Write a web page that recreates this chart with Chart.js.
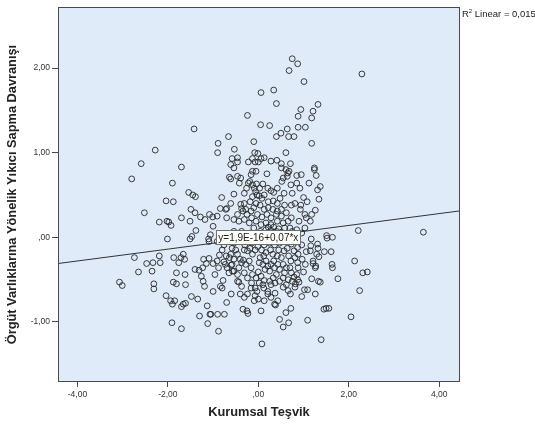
<!DOCTYPE html>
<html>
<head>
<meta charset="utf-8">
<script src="https://cdn.jsdelivr.net/npm/chart.js@4.4.1/dist/chart.umd.min.js"></script>
<style>
  html, body { margin: 0; padding: 0; background: #ffffff; }
  #wrap { width: 535px; height: 427px; position: relative; }
</style>
</head>
<body>
<div id="wrap"><canvas id="c" width="535" height="427"></canvas></div>
<script>
// Kurumsal Teşvik (x) vs Örgüt Varlıklarına Yönelik Yıkıcı Sapma Davranışı (y)
const pointsX = [
  0.75,0.87,0.68,2.29,1.01,0.34,0.06,0.40,1.32,0.94,1.21,-0.24,0.88,1.18,0.05,0.25,1.04,0.88,-1.42,0.64,0.50,0.40,0.67,0.79,-0.66,-0.10,1.18,-0.89,-2.28,-0.53,-0.90,-0.08,-0.01,0.61,
  -2.59,-2.80,-1.70,-1.90,-1.88,-2.04,-2.52,-2.19,-2.02,-1.98,-1.93,-2.01,-1.54,-1.45,-1.39,-1.49,-1.40,-1.70,-1.51,-1.28,-1.18,-1.38,-1.47,-1.51,-1.08,-1.01,-1.00,-1.10,-1.09,-0.84,-0.70,-0.70,-0.81,
  -3.07,-3.01,-2.74,-2.65,-2.47,-2.35,-2.33,-2.31,-2.31,-2.19,-2.17,-2.04,-1.94,-1.90,-1.85,-1.91,-1.88,-1.81,-1.87,-1.81,-1.76,-1.71,-1.66,-1.63,-1.62,-1.61,-1.70,-1.66,-1.61,-1.70,-1.48,-1.34,-1.40,-1.31,-1.23,-1.26,-1.22,-1.19,-1.30,-1.13,-1.12,-1.07,-1.05,-1.21,-1.15,-1.09,-1.00,-0.96,-1.00,-0.90,-0.88,-0.75,-0.84,-0.80,-0.78,-0.88,-0.91,-0.76,-0.71,-0.69,-0.64,-0.60,-0.57,-0.70,-0.60,-0.46,-0.43,-0.37,-0.40,-0.34,-0.25,-0.23,-0.31,-0.24,-0.16,-0.09,-0.07,-0.03,0.06,0.08,0.12,0.21,0.28,0.36,0.38,0.43,0.37,0.47,0.55,0.61,0.67,0.72,0.66,0.71,0.81,0.96,1.02,1.09,1.09,1.18,1.26,1.33,1.37,1.39,1.45,1.50,1.56,1.63,1.64,1.76,2.05,2.13,2.24,2.31,2.41,2.21,3.65,1.51,1.52,1.64,1.61,1.46,1.31,1.32,1.29,1.34,1.21,1.27,1.15,1.16,1.06,1.17,1.21,1.26,
  1.24,1.24,1.28,1.37,1.31,1.34,1.26,1.12,1.08,1.00,0.95,0.85,0.85,0.92,0.75,0.72,0.81,0.73,0.94,0.93,1.03,1.06,1.18,1.15,0.90,0.73,0.61,0.65,0.68,0.64,0.71,0.51,0.51,0.41,0.28,0.13,0.19,0.52,0.55,0.42,0.34,0.28,0.21,0.10,0.03,-0.04,-0.06,-0.03,0.02,0.08,0.13,0.22,0.33,0.42,0.48,0.57,0.58,0.51,0.42,0.32,0.22,0.13,0.04,-0.05,-0.10,-0.02,0.08,0.19,0.28,0.40,0.51,0.62,0.66,0.55,0.42,0.28,0.17,0.06,-0.05,-0.15,-0.25,-0.34,-0.46,-0.54,-0.43,-0.31,-0.20,-0.10,
  -0.16,-0.22,-0.19,-0.13,-0.09,-0.26,-0.31,-0.42,-0.39,-0.46,-0.54,-0.61,-0.58,-0.46,-0.64,-0.61,-0.54,-0.61,-0.72,-0.39,-0.31,-0.18,-0.13,-0.28,-0.16,-0.37,-0.22,-0.07,-0.13,-0.13,-0.05,0.06,0.00,-0.46,-0.54,-0.63,-0.46,-0.37,
  -0.58,-0.61,-0.54,-0.46,-0.40,-0.37,-0.33,-0.28,-0.43,-0.54,-0.65,-0.46,-0.31,-0.24,-0.15,-0.13,-0.05,0.00,0.06,0.13,0.10,0.02,-0.07,-0.16,-0.20,-0.13,-0.07,-0.01,-0.18,-0.24,-0.31,-0.30,-0.15,-0.09,0.06,0.13,0.07,0.17,0.12,0.04,0.02,0.10,0.17,0.21,0.15,0.25,0.28,0.34,0.36,0.43,0.47,0.40,0.33,0.25,0.37,0.47,0.55,0.58,0.62,0.55,0.51,0.42,0.32,0.27,0.25,0.36,0.45,0.57,0.64,0.67,0.72,0.70,0.73,0.79,0.85,0.87,0.90,0.82,0.75,0.66,0.62,0.55,0.88,0.87,0.81,0.88,0.79,0.87,0.96,0.97,1.04,1.00,0.82,0.73,0.66,0.57,0.47,0.40,0.28,0.21,0.13,0.04,0.17,0.28,0.40,0.51,0.64,0.75,0.85,0.96,1.03,0.70,0.58,0.45,0.34,0.22,-0.05,-0.18,-0.28,-0.45,-0.54,-0.50,-0.76,-0.80,-0.86,-0.73,-0.58,
  0.21,0.28,0.00,0.13,-0.91,-0.84,-0.91,-1.06
];
const pointsY = [
  2.11,2.05,1.97,1.93,1.84,1.74,1.71,1.58,1.57,1.51,1.49,1.44,1.43,1.41,1.33,1.32,1.30,1.30,1.28,1.28,1.23,1.19,1.19,1.19,1.19,1.13,1.11,1.11,1.03,1.04,1.00,1.00,0.99,1.00,
  0.87,0.69,0.83,0.64,0.42,0.43,0.29,0.18,0.19,0.18,0.14,-0.02,0.53,0.50,0.48,0.33,0.29,0.23,0.19,0.24,0.21,0.08,0.01,-0.02,0.27,0.24,0.13,-0.02,-0.05,0.34,0.34,0.23,0.47,
  -0.53,-0.57,-0.24,-0.41,-0.31,-0.40,-0.30,-0.55,-0.61,-0.22,-0.30,-0.69,-0.75,-0.79,-0.75,-1.01,-0.53,-0.55,-0.24,-0.42,-0.30,-0.24,-0.20,-0.26,-0.44,-0.56,-0.82,-0.79,-0.78,-1.08,-0.70,-0.73,-0.38,-0.39,-0.36,-0.46,-0.52,-0.58,-0.93,-0.81,-1.02,-0.91,-0.91,-0.26,-0.31,-0.25,-0.31,-0.44,-0.64,-0.91,-1.11,-0.91,-0.58,-0.60,-0.51,-0.36,-0.28,-0.29,-0.22,-0.36,-0.24,-0.33,-0.40,-0.77,-0.67,-0.52,-0.53,-0.58,-0.67,-0.85,-0.87,-0.90,-0.71,-0.67,-0.60,-0.75,-0.69,-0.64,-0.87,-1.26,-0.60,-0.64,-0.56,-0.79,-0.80,-0.75,-0.66,-0.97,-1.06,-0.89,-1.01,-0.84,-0.63,-0.67,-0.59,-0.70,-0.62,-0.98,-0.62,-0.49,-0.67,-0.52,-0.53,-1.21,-0.85,-0.84,-0.84,-0.32,-0.36,-0.49,-0.94,-0.28,-0.63,-0.42,-0.41,0.08,0.06,0.02,-0.01,0.00,-0.17,-0.17,-0.08,-0.13,-0.20,-0.23,-0.28,-0.34,-0.16,-0.10,-0.17,-0.02,-0.31,-0.36,
  0.82,0.80,0.73,0.60,0.56,0.45,0.32,0.64,0.42,0.47,0.74,0.73,0.64,0.58,0.52,0.62,0.40,0.38,0.38,0.33,0.27,0.23,0.27,0.19,0.19,0.23,0.80,0.76,0.78,0.72,0.87,0.87,0.82,0.91,0.90,0.94,0.75,0.66,0.70,0.58,0.53,0.55,0.58,0.63,0.58,0.63,0.54,0.50,0.49,0.46,0.50,0.42,0.43,0.40,0.46,0.52,0.38,0.33,0.31,0.33,0.35,0.33,0.38,0.40,0.35,0.27,0.24,0.27,0.23,0.27,0.25,0.29,0.19,0.17,0.19,0.15,0.17,0.15,0.19,0.23,0.27,0.31,0.27,0.21,0.19,0.21,0.17,0.11,
  0.74,0.64,0.66,0.62,0.58,0.58,0.52,0.64,0.70,0.72,0.82,0.86,0.93,0.94,0.71,0.69,0.51,0.40,0.33,0.39,0.40,0.42,0.48,0.33,0.31,0.34,0.89,0.89,0.93,0.78,0.78,0.93,0.89,0.89,0.07,0.03,0.03,0.07,
  -0.13,-0.20,-0.26,-0.20,-0.26,-0.30,-0.27,-0.32,-0.36,-0.40,-0.42,-0.44,-0.42,-0.48,-0.54,-0.44,-0.48,-0.41,-0.46,-0.51,-0.56,-0.54,-0.60,-0.36,-0.28,-0.20,-0.15,-0.11,-0.13,-0.16,-0.15,-0.09,-0.07,-0.03,-0.03,-0.09,-0.15,-0.18,-0.22,-0.24,-0.30,-0.32,-0.28,-0.34,-0.38,-0.40,-0.32,-0.28,-0.36,-0.32,-0.38,-0.44,-0.48,-0.52,-0.54,-0.52,-0.48,-0.42,-0.36,-0.32,-0.24,-0.22,-0.20,-0.15,-0.07,-0.09,-0.15,-0.16,-0.13,-0.22,-0.28,-0.36,-0.42,-0.47,-0.44,-0.50,-0.53,-0.55,-0.52,-0.50,-0.56,-0.59,-0.36,-0.30,-0.24,-0.20,-0.16,-0.12,-0.09,-0.26,-0.32,-0.41,-0.05,-0.08,-0.05,-0.02,-0.07,-0.02,0.01,-0.02,0.03,0.07,0.09,0.08,0.07,0.06,0.03,0.07,0.09,0.05,0.11,0.11,0.11,0.10,0.12,0.12,0.03,0.05,0.03,-0.05,-0.07,-0.15,-0.09,-0.15,-0.21,-0.32,-0.32,
  -0.67,-0.71,-0.73,-0.75,0.25,0.03,-0.05,0.03
];

// Fitted line: y = intercept + slope * x
const fitIntercept = 1.9e-16;
const fitSlope = 0.07;
const fitLabel = 'y=1,9E-16+0,07*x';
const r2Value = '0,015';

// Axis ranges and tick marks
const xRange = [-4.43, 4.46];
const yRange = [-1.71, 2.72];
const xTickValues = [-4, -2, 0, 2, 4];
const xTickLabels = ['-4,00', '-2,00', ',00', '2,00', '4,00'];
const yTickValues = [-1, 0, 1, 2];
const yTickLabels = ['-1,00', ',00', '1,00', '2,00'];

const xTitle = 'Kurumsal Teşvik';
const yTitle = 'Örgüt Varlıklarına Yönelik Yıkıcı Sapma Davranışı';

const scatterData = pointsX.map((x, i) => ({ x: x, y: pointsY[i] }));
const fitData = xRange.map(x => ({ x: x, y: fitIntercept + fitSlope * x }));

const FONT = '"Liberation Sans", Arial, sans-serif';

const plotDecor = {
  id: 'plotDecor',
  beforeDatasetsDraw(chart) {
    const { ctx, chartArea: a } = chart;
    ctx.save();
    ctx.fillStyle = '#dfebf8';
    ctx.fillRect(a.left, a.top, a.right - a.left, a.bottom - a.top);
    ctx.restore();
  },
  afterDatasetsDraw(chart) {
    const { ctx, chartArea: a, scales } = chart;
    ctx.save();
    // frame
    ctx.strokeStyle = '#4a4a4a';
    ctx.lineWidth = 1;
    ctx.strokeRect(Math.round(a.left) + 0.5, Math.round(a.top) + 0.5,
                   Math.round(a.right - a.left) - 1, Math.round(a.bottom - a.top) - 1);

    // equation label box centred on the fit line at x = 0
    const cx = scales.x.getPixelForValue(0);
    const cy = scales.y.getPixelForValue(fitIntercept);
    ctx.font = '10px ' + FONT;
    const w = ctx.measureText(fitLabel).width + 4;
    const h = 14;
    ctx.fillStyle = '#fdfdf8';
    ctx.fillRect(cx - w / 2, cy - h / 2, w, h);
    ctx.strokeStyle = '#707070';
    ctx.strokeRect(Math.round(cx - w / 2) + 0.5, Math.round(cy - h / 2) + 0.5, Math.round(w), h);
    ctx.fillStyle = '#222';
    ctx.textAlign = 'center';
    ctx.textBaseline = 'middle';
    ctx.fillText(fitLabel, cx, cy + 0.5);

    // R² note to the right of the plot
    let tx = a.right + 2;
    const ty = 17;
    ctx.textAlign = 'left';
    ctx.textBaseline = 'alphabetic';
    ctx.font = '9.5px ' + FONT;
    ctx.fillText('R', tx, ty);
    tx += ctx.measureText('R').width;
    ctx.font = '6px ' + FONT;
    ctx.fillText('2', tx, ty - 4);
    tx += ctx.measureText('2').width;
    ctx.font = '9.5px ' + FONT;
    ctx.fillText(' Linear = ' + r2Value, tx, ty);
    ctx.restore();
  }
};

new Chart(document.getElementById('c'), {
  type: 'scatter',
  data: {
    datasets: [
      {
        type: 'line',
        data: fitData,
        borderColor: '#333333',
        borderWidth: 1,
        pointRadius: 0,
        fill: false,
        order: 2
      },
      {
        data: scatterData,
        pointStyle: 'circle',
        pointRadius: 2.9,
        borderWidth: 1,
        borderColor: 'rgba(40,40,40,0.9)',
        backgroundColor: 'rgba(0,0,0,0)',
        order: 1
      }
    ]
  },
  options: {
    responsive: false,
    animation: false,
    events: [],
    layout: { padding: { left: 0, right: 75, top: 5, bottom: 0 } },
    plugins: { legend: { display: false }, tooltip: { enabled: false } },
    scales: {
      x: {
        type: 'linear',
        min: xRange[0],
        max: xRange[1],
        afterFit(scale) { scale.height = 45; },
        afterBuildTicks(scale) { scale.ticks = xTickValues.map(v => ({ value: v })); },
        border: { display: false },
        grid: { drawOnChartArea: false, drawTicks: true, tickLength: 5, color: '#4a4a4a' },
        ticks: {
          padding: 3,
          maxRotation: 0,
          autoSkip: false,
          color: '#333',
          font: { family: FONT, size: 8.5 },
          callback: (v, i) => xTickLabels[i]
        },
        title: {
          display: true,
          text: xTitle,
          color: '#222',
          font: { family: FONT, size: 12.8, weight: 'bold' },
          padding: { top: 0, bottom: 7 }
        }
      },
      y: {
        type: 'linear',
        min: yRange[0],
        max: yRange[1],
        afterFit(scale) { scale.width = 58; },
        afterBuildTicks(scale) { scale.ticks = yTickValues.map(v => ({ value: v })); },
        border: { display: false },
        grid: { drawOnChartArea: false, drawTicks: true, tickLength: 6, color: '#4a4a4a' },
        ticks: {
          padding: 2,
          autoSkip: false,
          color: '#333',
          font: { family: FONT, size: 8.5 },
          callback: (v, i) => yTickLabels[i]
        },
        title: {
          display: true,
          text: yTitle,
          color: '#222',
          font: { family: FONT, size: 12.8, weight: 'bold' },
          padding: { top: 5, bottom: 0 }
        }
      }
    }
  },
  plugins: [plotDecor]
});
</script>
</body>
</html>
